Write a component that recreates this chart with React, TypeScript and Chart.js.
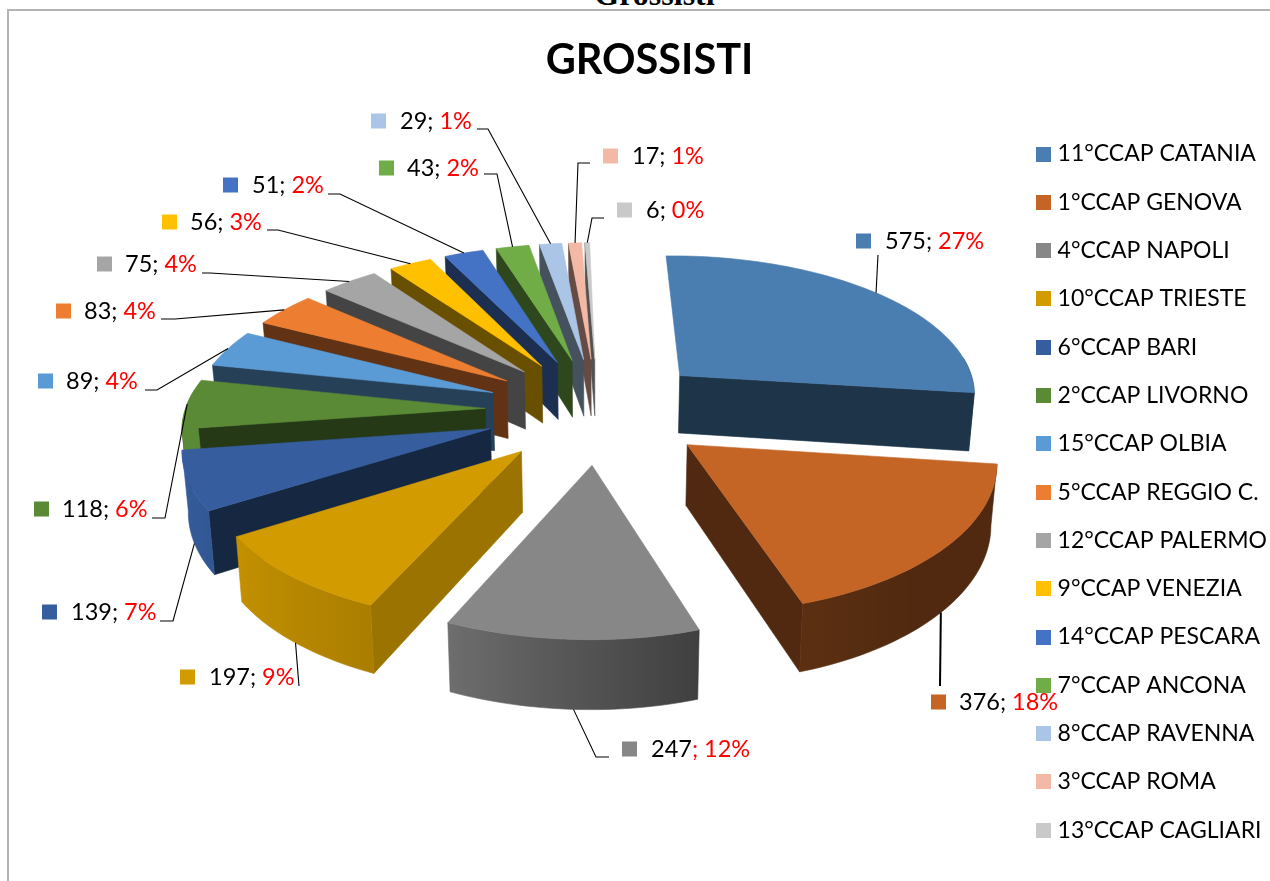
import React, { useEffect, useRef } from "react";
import { Chart, registerables } from "chart.js";

Chart.register(...registerables);

const categories = [
  "11°CCAP CATANIA", "1°CCAP GENOVA", "4°CCAP NAPOLI", "10°CCAP TRIESTE", "6°CCAP BARI",
  "2°CCAP LIVORNO", "15°CCAP OLBIA", "5°CCAP REGGIO C.", "12°CCAP PALERMO", "9°CCAP VENEZIA",
  "14°CCAP PESCARA", "7°CCAP ANCONA", "8°CCAP RAVENNA", "3°CCAP ROMA", "13°CCAP CAGLIARI",
];
const values = [575, 376, 247, 197, 139, 118, 89, 83, 75, 56, 51, 43, 29, 17, 6];
const colors = [
  "#4A7EB0", "#C46526", "#878787", "#D29B00", "#365E9F", "#5A8A35", "#5B9BD5", "#ED7D31",
  "#A5A5A5", "#FFC000", "#4472C4", "#70AD47", "#ABC5E6", "#F4B9A6", "#C9C9C9",
];

// Layout of the data labels: [box left, row centre y, text left]
const labelPlaces: number[][] = [
  [856, 241, 885], [931, 702, 959], [622, 749, 651], [180, 677, 209], [42, 612, 71],
  [34, 509, 62], [38, 381, 66], [56, 311, 84], [97, 264, 125], [162, 222, 190],
  [223, 185, 252], [379, 168, 407], [371, 121, 400], [603, 156, 632], [617, 210, 646],
];
// Leader lines: points laid out before the rim point of the slice
const leaderBends: number[][][] = [
  [[878, 255]], [[940, 686]], [[609, 757], [596, 757]], [[299, 686]], [[160, 621], [173, 621]],
  [[152, 518], [165, 518]], [[145, 390], [157, 390]], [[161, 319], [175, 319]], [[202, 273], [210, 273]],
  [[267, 230], [278, 230]], [[328, 194], [340, 194]], [[484, 174], [497, 174]], [[477, 129], [488, 129]],
  [[590, 163], [578, 163]], [[604, 218], [592, 218]],
];
const THICK_LEADER = 1;

// 3D view of the pie
const CX = 598, CY = 410, SQUASH = 0.469, PERSP = 0.00038, FRONT_X_PERSP = 0.85, EXPLODE = 113, DEPTH = 59, BOTTOM_X = 0.985;
const EDGE_SHADE = 0.41;
const EDGE_SHADE_BY_SLICE: Record<number, number> = { 3: 0.74 };
const FONT = "Lato";

const shadeStops = [[100, 0.41], [140, 0.41], [162, 0.47], [185, 0.65], [205, 0.82], [237, 0.93], [262, 1]];
function shadeAt(deg: number) {
  if (deg <= shadeStops[0][0]) return shadeStops[0][1];
  for (let i = 1; i < shadeStops.length; i++) {
    if (deg <= shadeStops[i][0]) {
      const [a, va] = shadeStops[i - 1];
      const [b, vb] = shadeStops[i];
      return va + ((vb - va) * (deg - a)) / (b - a);
    }
  }
  return 1;
}
function shadeColor(hex: string, f: number) {
  const n = parseInt(hex.slice(1), 16);
  const c = (v: number) => Math.round(v * f);
  return `rgb(${c((n >> 16) & 255)},${c((n >> 8) & 255)},${c(n & 255)})`;
}
function project(x: number, y: number, low: boolean) {
  const s = 1 / (1 - PERSP * y);
  const sx = y > 0 && x > 0 ? 1 / (1 - PERSP * FRONT_X_PERSP * y) : s;
  const xs = x * sx * (low ? BOTTOM_X : 1);
  return { x: CX + xs, y: CY + SQUASH * y * s + (low ? DEPTH * s : 0) };
}
function poly(ctx: CanvasRenderingContext2D, pts: { x: number; y: number }[], color: any) {
  ctx.beginPath();
  pts.forEach((p, i) => (i ? ctx.lineTo(p.x, p.y) : ctx.moveTo(p.x, p.y)));
  ctx.closePath();
  ctx.fillStyle = color;
  ctx.strokeStyle = color;
  ctx.lineWidth = 0.6;
  ctx.fill();
  ctx.stroke();
}

function drawSlice(ctx: CanvasRenderingContext2D, arc: any, i: number) {
  const a0 = arc.startAngle, a1 = arc.endAngle, R = arc.outerRadius;
  const m = (a0 + a1) / 2;
  const ox = EXPLODE * Math.cos(m), oy = EXPLODE * Math.sin(m);
  const rim = (a: number) => [ox + R * Math.cos(a), oy + R * Math.sin(a)];
  const steps = Math.max(2, Math.ceil(((a1 - a0) * 180) / Math.PI / 1.5));
  const angles: number[] = [];
  for (let k = 0; k <= steps; k++) angles.push(a0 + ((a1 - a0) * k) / steps);
  const edge = shadeColor(colors[i], EDGE_SHADE_BY_SLICE[i] ?? EDGE_SHADE);
  const wall = (a: number) => {
    const [x, y] = rim(a);
    poly(ctx, [project(ox, oy, false), project(x, y, false), project(x, y, true), project(ox, oy, true)], edge);
  };
  const startN = Math.sin(a0 - Math.PI / 2);
  const endN = Math.sin(a1 + Math.PI / 2);
  if (startN > 0.1 || (startN > 0 && ox < 0)) wall(a0);
  if (endN > 0.1) wall(a1);

  // outer wall: one path, shaded across the screen
  const vis = angles.filter((a) => Math.sin(a) > -0.15);
  if (vis.length > 1) {
    const up = vis.map((a) => {
      const [x, y] = rim(a);
      return project(x, y, false);
    });
    const down = vis.map((a) => {
      const [x, y] = rim(a);
      return project(x, y, true);
    });
    const xs = up.map((p) => p.x);
    const x0 = Math.min(...xs), x1 = Math.max(...xs);
    const g = ctx.createLinearGradient(x0, 0, x1, 0);
    vis.forEach((a, k) => {
      const deg = (((a + Math.PI / 2) * 180) / Math.PI + 360) % 360;
      g.addColorStop((xs[k] - x0) / Math.max(1, x1 - x0), shadeColor(colors[i], shadeAt(deg)));
    });
    poly(ctx, [...up, ...down.reverse()], g);
  }

  const top = [project(ox, oy, false)];
  angles.forEach((a) => {
    const [x, y] = rim(a);
    top.push(project(x, y, false));
  });
  poly(ctx, top, colors[i]);
}

const pie3d = {
  id: "pie3d",
  beforeDatasetDraw(chart: any) {
    const ctx = chart.ctx;
    const arcs = chart.getDatasetMeta(0).data;
    const order = arcs.map((_: any, i: number) => i).sort(
      (p: number, q: number) =>
        Math.sin((arcs[p].startAngle + arcs[p].endAngle) / 2) - Math.sin((arcs[q].startAngle + arcs[q].endAngle) / 2));
    ctx.save();
    ctx.lineJoin = "round";
    order.forEach((i: number) => drawSlice(ctx, arcs[i], i));
    ctx.restore();
    return false;
  },
  afterDatasetsDraw(chart: any) {
    const ctx = chart.ctx;
    const arcs = chart.getDatasetMeta(0).data;
    const total = values.reduce((a, b) => a + b, 0);
    ctx.save();
    ctx.strokeStyle = "#000";
    arcs.forEach((arc: any, i: number) => {
      const m = (arc.startAngle + arc.endAngle) / 2;
      const r = EXPLODE + arc.outerRadius;
      const front = Math.sin(m) > 0;
      const end = project(r * Math.cos(m), r * Math.sin(m), front);
      ctx.lineWidth = i === THICK_LEADER ? 2 : 1.1;
      ctx.beginPath();
      leaderBends[i].forEach(([x, y], k) => (k ? ctx.lineTo(x, y) : ctx.moveTo(x, y)));
      ctx.lineTo(end.x, end.y);
      ctx.stroke();
    });
    ctx.font = `23.5px ${FONT}`;
    ctx.textBaseline = "middle";
    values.forEach((v, i) => {
      const [bx, cy, tx] = labelPlaces[i];
      ctx.fillStyle = colors[i];
      ctx.fillRect(bx, cy - 7.5, 15, 15);
      const pct = `${Math.round((v / total) * 100)}%`;
      const redSep = i === 2;
      const black = redSep ? `${v}` : `${v}; `;
      const red = redSep ? `; ${pct}` : pct;
      ctx.fillStyle = "#000";
      ctx.fillText(black, tx, cy);
      ctx.fillStyle = "#FF0000";
      ctx.fillText(red, tx + ctx.measureText(black).width, cy);
    });
    ctx.restore();
  },
};

function swatch(color: string) {
  const c = document.createElement("canvas");
  c.width = 15;
  c.height = 15;
  const g = c.getContext("2d")!;
  g.fillStyle = color;
  g.fillRect(0, 0, 15, 15);
  return c;
}

export default function App() {
  const ref = useRef<HTMLCanvasElement>(null);
  useEffect(() => {
    const chart = new Chart(ref.current!, {
      type: "pie",
      plugins: [pie3d],
      data: {
        labels: categories,
        datasets: [{ data: values, backgroundColor: colors, borderWidth: 0 }],
      },
      options: {
        responsive: false,
        animation: false,
        radius: 300,
        rotation: -1.2,
        layout: { padding: { left: 22, right: -7 } },
        plugins: {
          tooltip: { enabled: false },
          title: {
            display: true,
            text: "GROSSISTI",
            color: "#000",
            font: { family: FONT, size: 41.5, weight: "bold", lineHeight: 1.2 },
            padding: { top: 36, bottom: 31.4 },
          },
          legend: {
            display: true,
            position: "right",
            align: "start",
            fullSize: false,
            labels: {
              color: "#000",
              font: { family: FONT, size: 23, lineHeight: 1.2 },
              padding: 25.3,
              usePointStyle: true,
              pointStyleWidth: 5,
              generateLabels: (c: any) =>
                (Chart as any).overrides.pie.plugins.legend.labels
                  .generateLabels(c)
                  .map((l: any, i: number) => ({ ...l, pointStyle: swatch(colors[i]) })),
            },
          },
        },
      } as any,
    });
    return () => chart.destroy();
  }, []);
  return (
    <div style={{ position: "fixed", left: 0, top: 0, width: 1270, height: 881, overflow: "hidden", background: "#fff" }}>
      <div
        style={{
          position: "absolute", left: 7, top: 9, width: 1263, height: 872,
          borderTop: "2px solid #B4B4B4", borderLeft: "2px solid #B4B4B4",
        }}
      />
      <div
        style={{
          position: "absolute", left: 0, width: 1309, top: -22, textAlign: "center",
          font: "bold 32px/32px 'Liberation Serif'", color: "#000",
        }}
      >
        Grossisti
      </div>
      <canvas ref={ref} width={1270} height={881} style={{ position: "absolute", left: 0, top: 0, display: "block" }} />
    </div>
  );
}
